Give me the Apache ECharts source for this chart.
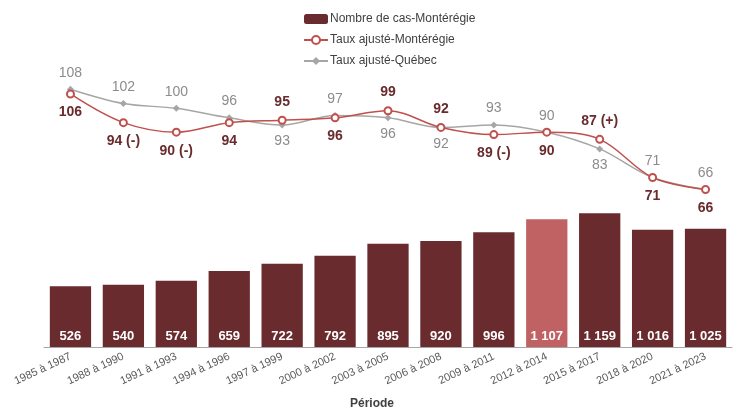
<!DOCTYPE html>
<html>
<head>
<meta charset="utf-8">
<script src="https://cdn.jsdelivr.net/npm/echarts@6/dist/echarts.min.js"></script>
<style>
  html, body { margin: 0; padding: 0; background: #fff; }
  #chart { width: 739px; height: 408px; }
</style>
</head>
<body>
<div id="chart"></div>
<script>
const periods = ['1985 à 1987', '1988 à 1990', '1991 à 1993', '1994 à 1996', '1997 à 1999', '2000 à 2002',
  '2003 à 2005', '2006 à 2008', '2009 à 2011', '2012 à 2014', '2015 à 2017', '2018 à 2020', '2021 à 2023'];
const nbCas = [526, 540, 574, 659, 722, 792, 895, 920, 996, 1107, 1159, 1016, 1025];
const tauxMonteregie = [106, 94, 90, 94, 95, 96, 99, 92, 89, 90, 87, 71, 66];
const tauxQuebec = [108, 102, 100, 96, 93, 97, 96, 92, 93, 90, 83, 71, 66];
// significance flags next to the Montérégie rate
const signifMonteregie = ['', ' (-)', ' (-)', '', '', '', '', '', ' (-)', '', ' (+)', '', ''];
const highlightIndex = 9;

// which side of the point each label goes
const sideMonteregie = ['bottom', 'bottom', 'bottom', 'bottom', 'top', 'bottom', 'top', 'top', 'bottom', 'bottom', 'top', 'bottom', 'bottom'];
const sideQuebec = ['top', 'top', 'top', 'top', 'bottom', 'top', 'bottom', 'bottom', 'top', 'top', 'bottom', 'top', 'top'];

const font = '"Liberation Sans", Arial, sans-serif';
const dark = '#692b2d';

const fmt = (v) => String(v).replace(/\B(?=(\d{3})+(?!\d))/g, ' ');

const option = {
  animation: false,
  textStyle: { fontFamily: font },
  legend: {
    orient: 'vertical',
    left: 298,
    top: 8,
    itemGap: 9,
    itemWidth: 24,
    itemHeight: 10,
    textStyle: { fontSize: 12, color: '#404040', fontFamily: font, padding: [0, 0, 0, -3] },
    data: ['Nombre de cas-Montérégie', 'Taux ajusté-Montérégie', 'Taux ajusté-Québec']
  },
  grid: { left: 44, right: 7, top: 20, bottom: 61, containLabel: false, outerBoundsMode: 'none' },
  xAxis: {
    type: 'category',
    data: periods,
    axisLine: { lineStyle: { color: '#a6a6a6' } },
    axisTick: { alignWithLabel: false, length: 5, lineStyle: { color: '#a6a6a6' } },
    axisLabel: { rotate: 25, fontSize: 11, color: '#595959', margin: 9, interval: 0 },
    name: 'Période',
    nameLocation: 'middle',
    nameGap: 51,
    nameTextStyle: { fontWeight: 'bold', fontSize: 12, color: '#404040', padding: [0, 32, 0, 0] }
  },
  yAxis: [
    { type: 'value', min: 0, max: 2836, show: false },
    { type: 'value', min: 0, max: 137, show: false }
  ],
  series: [
    {
      name: 'Nombre de cas-Montérégie',
      type: 'bar',
      yAxisIndex: 0,
      barCategoryGap: '22%',
      itemStyle: { color: dark },
      data: nbCas.map((v, i) => ({
        value: v,
        itemStyle: { color: i === highlightIndex ? '#c06263' : dark }
      })),
      label: {
        show: true,
        position: 'insideBottom',
        distance: 4,
        color: '#fff',
        fontWeight: 'bold',
        fontSize: 13,
        formatter: (p) => fmt(p.value)
      }
    },
    {
      name: 'Taux ajusté-Québec',
      type: 'line',
      yAxisIndex: 1,
      smooth: 0.35,
      symbol: 'diamond',
      symbolSize: 7,
      lineStyle: { color: '#a6a6a6', width: 1.5 },
      itemStyle: { color: '#a6a6a6' },
      data: tauxQuebec.map((v, i) => ({
        value: v,
        label: { position: sideQuebec[i] }
      })),
      label: {
        show: true,
        distance: 6,
        color: '#8c8c8c',
        fontSize: 14
      }
    },
    {
      name: 'Taux ajusté-Montérégie',
      type: 'line',
      yAxisIndex: 1,
      smooth: 0.35,
      symbol: 'emptyCircle',
      symbolSize: 7,
      lineStyle: { color: '#c0504d', width: 1.5 },
      itemStyle: { color: '#c0504d', borderWidth: 1.5 },
      data: tauxMonteregie.map((v, i) => ({
        value: v,
        label: { position: sideMonteregie[i] }
      })),
      label: {
        show: true,
        distance: 7,
        color: dark,
        fontWeight: 'bold',
        fontSize: 14,
        formatter: (p) => p.value + signifMonteregie[p.dataIndex]
      }
    }
  ]
};

const chart = echarts.init(document.getElementById('chart'));
chart.setOption(option);
</script>
</body>
</html>
